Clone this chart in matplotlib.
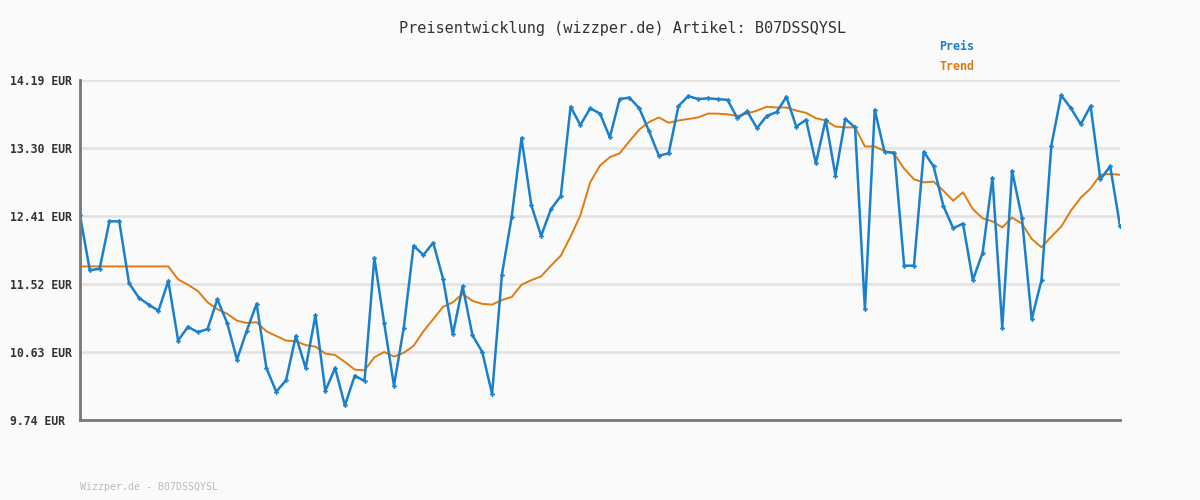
import matplotlib
matplotlib.use("Agg")
import matplotlib.pyplot as plt
from matplotlib.ticker import FixedLocator

price = [12.42, 11.70, 11.72, 12.34, 12.34, 11.53, 11.34, 11.25, 11.17, 11.56,
         10.78, 10.96, 10.89, 10.93, 11.32, 11.01, 10.53, 10.91, 11.26, 10.42,
         10.11, 10.26, 10.84, 10.42, 11.11, 10.12, 10.42, 9.93, 10.32, 10.25,
         11.86, 11.01, 10.19, 10.95, 12.02, 11.90, 12.06, 11.59, 10.86, 11.49,
         10.85, 10.63, 10.08, 11.64, 12.40, 13.43, 12.55, 12.15, 12.50, 12.67,
         13.84, 13.60, 13.82, 13.75, 13.44, 13.94, 13.96, 13.82, 13.52, 13.20,
         13.23, 13.85, 13.98, 13.94, 13.95, 13.94, 13.93, 13.69, 13.78, 13.56,
         13.72, 13.77, 13.97, 13.58, 13.67, 13.10, 13.67, 12.94, 13.68, 13.57,
         11.19, 13.80, 13.25, 13.24, 11.76, 11.76, 13.25, 13.06, 12.54, 12.25,
         12.31, 11.57, 11.93, 12.91, 10.95, 13.00, 12.39, 11.06, 11.57, 13.33,
         13.99, 13.82, 13.61, 13.85, 12.89, 13.06, 12.28]

trend = [11.75, 11.75, 11.75, 11.75, 11.75, 11.75, 11.75, 11.75, 11.75, 11.75,
         11.58, 11.51, 11.43, 11.28, 11.19, 11.13, 11.04, 11.01, 11.02, 10.90,
         10.84, 10.78, 10.77, 10.72, 10.70, 10.61, 10.59, 10.50, 10.40, 10.39,
         10.56, 10.63, 10.57, 10.62, 10.71, 10.90, 11.06, 11.22, 11.28, 11.39,
         11.30, 11.26, 11.25, 11.31, 11.35, 11.51, 11.57, 11.62, 11.76, 11.89,
         12.14, 12.42, 12.85, 13.07, 13.18, 13.23, 13.39, 13.54, 13.64, 13.70,
         13.63, 13.66, 13.68, 13.70, 13.75, 13.75, 13.74, 13.72, 13.75, 13.79,
         13.84, 13.83, 13.83, 13.79, 13.76, 13.69, 13.66, 13.58, 13.57, 13.57,
         13.32, 13.32, 13.26, 13.22, 13.03, 12.89, 12.85, 12.86, 12.74, 12.61,
         12.72, 12.50, 12.38, 12.34, 12.26, 12.39, 12.31, 12.11, 12.00, 12.14,
         12.27, 12.48, 12.65, 12.77, 12.95, 12.96, 12.95]

y_ticks = [9.74, 10.63, 11.52, 12.41, 13.30, 14.19]
y_labels = ["9.74 EUR", "10.63 EUR", "11.52 EUR", "12.41 EUR", "13.30 EUR", "14.19 EUR"]

title = "Preisentwicklung (wizzper.de) Artikel: B07DSSQYSL"
footer = "Wizzper.de - B07DSSQYSL"

BG = "#fafafa"
BLUE = "#1a80cc"
ORANGE = "#e07b10"
MONO = ["DejaVu Sans Mono"]

fig = plt.figure(figsize=(12, 5), dpi=100, facecolor=BG)
ax = fig.add_axes([80/1200, 1-420/500, 1040/1200, 340/500], facecolor=BG)

x = list(range(len(price)))
ax.plot(x, trend, color=ORANGE, lw=1.4, zorder=3)
ax.plot(x, price, color=BLUE, lw=1.8, marker="P", ms=3.5, mew=0,
        zorder=4)

ax.set_xlim(0, len(price) - 1)
ax.set_ylim(y_ticks[0], y_ticks[-1])
ax.yaxis.set_major_locator(FixedLocator(y_ticks))
ax.set_yticklabels(y_labels, family=MONO, fontsize=8.3, fontweight="bold",
                   color="#333333")
for lbl in ax.get_yticklabels():
    lbl.set_horizontalalignment("left")
ax.set_xticks([])
ax.tick_params(axis="y", length=0, pad=70 * 72 / 100)
ax.grid(axis="y", color="#e2e2e2", lw=1.8, zorder=0)
for s in ["top", "right"]:
    ax.spines[s].set_visible(False)
for s in ["left", "bottom"]:
    ax.spines[s].set_color("#777777")
    ax.spines[s].set_linewidth(2)
    ax.spines[s].set_zorder(5)

fig.text(623/1200, 1-28/500, title, family=MONO, fontsize=11, color="#333333",
         ha="center", va="center")
fig.text(939/1200, 1-46/500, "Preis", family=MONO, fontsize=8.4,
         fontweight="bold", color=BLUE, ha="left", va="center")
fig.text(939/1200, 1-67/500, "Trend", family=MONO, fontsize=8.4,
         fontweight="bold", color=ORANGE, ha="left", va="center")
fig.text(80/1200, 1-487/500, footer, family=MONO, fontsize=7.1,
         color="#bbbbbb", ha="left", va="center")

fig.savefig("out.png", dpi=100, facecolor=BG)
